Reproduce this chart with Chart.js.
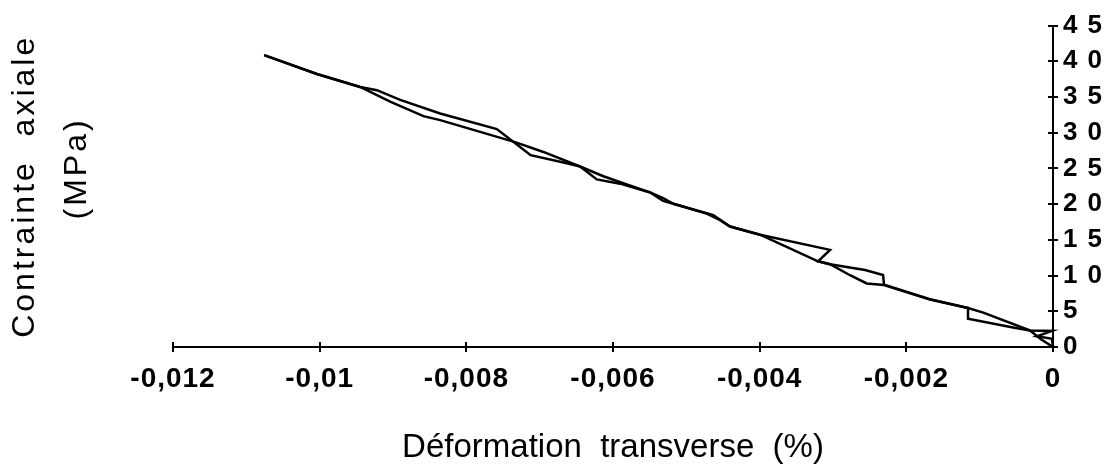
<!DOCTYPE html>
<html lang="fr">
<head>
  <meta charset="UTF-8">
  <title>Contrainte axiale vs déformation transverse</title>
  <style>
    html, body { margin: 0; padding: 0; background: #fff; }
    .chart-container { width: 1118px; height: 468px; }
  </style>
</head>
<body>
  <div class="chart-container">
    <canvas id="loopChart" width="1118" height="468"></canvas>
  </div>

  <script src="https://cdn.jsdelivr.net/npm/chart.js@4.4.0/dist/chart.umd.min.js"></script>
  <script>
    // Loading branch (with the creep steps), from origin to peak
    const loadStrain = [0, -0.000164, -0.000314, -0.000545, -0.001159, -0.001159, -0.001677, -0.002304,
      -0.002318, -0.002563, -0.003040, -0.003204, -0.003040, -0.003995, -0.004404, -0.004540, -0.004721,
      -0.005177, -0.005317, -0.005494, -0.005903, -0.006221, -0.006449, -0.006630, -0.007123, -0.007584,
      -0.008357, -0.008902, -0.009220, -0.009448, -0.010038, -0.010757];
    const loadStress = [0, 1.09, 2.32, 2.73, 3.95, 5.45, 6.68, 8.73,
      10.09, 10.77, 11.59, 12.00, 13.60, 15.72, 16.87, 17.77, 18.68,
      20.05, 20.46, 21.64, 22.87, 23.46, 25.27, 25.73, 26.86, 30.51,
      32.69, 34.60, 35.96, 36.41, 38.22, 40.87];

    // Unloading branch, from peak back to origin
    const unloadStrain = [-0.010757, -0.010038, -0.009448, -0.009039, -0.008585, -0.008357, -0.007335,
      -0.006949, -0.006449, -0.006131, -0.005812, -0.005494, -0.005317, -0.005177, -0.004631, -0.004404,
      -0.003995, -0.003204, -0.003040, -0.002768, -0.002540, -0.002304, -0.001677, -0.001159, -0.000950,
      -0.000314, -0.000014, -0.000218, -0.000014, 0];
    const unloadStress = [40.87, 38.22, 36.41, 34.37, 32.32, 31.77, 28.68,
      27.31, 25.27, 23.91, 22.77, 21.64, 20.86, 20.05, 18.45, 16.87,
      15.72, 12.00, 11.59, 10.05, 8.90, 8.69, 6.64, 5.45, 4.81,
      2.32, 2.25, 1.50, 1.16, 0];

    const xTickValues = [-0.012, -0.01, -0.008, -0.006, -0.004, -0.002, 0];
    const xTickLabels = ['-0,012', '-0,01', '-0,008', '-0,006', '-0,004', '-0,002', '0'];
    const yTickValues = [0, 5, 10, 15, 20, 25, 30, 35, 40, 45];
    const yTickLabels = ['0', '5', '10', '15', '20', '25', '30', '35', '40', '45'];

    const fontFamily = '"Liberation Sans", Arial, Helvetica, sans-serif';

    const toPoints = (xs, ys) => xs.map((x, i) => ({ x: x, y: ys[i] }));

    // wrap a scale draw method so its text gets some letter spacing
    function spaced(scale, method, sp) {
      const orig = scale[method];
      scale[method] = function (...args) {
        const c = this.ctx;
        c.save();
        c.letterSpacing = sp;
        orig.apply(this, args);
        c.restore();
      };
    }

    // small ticks that cross the axis line on both sides
    const axisMarks = {
      id: 'axisMarks',
      beforeDraw(chart) {
        if (chart._spacedDone) return;
        spaced(chart.scales.x, 'drawLabels', '1px');
        spaced(chart.scales.y, 'drawLabels', '10px');
        spaced(chart.scales.yTitle, 'drawTitle', '3px');
        chart._spacedDone = true;
      },
      afterDraw(chart) {
        const { ctx, scales: { x, y } } = chart;
        const len = 5;
        ctx.save();
        ctx.strokeStyle = '#000';
        ctx.lineWidth = 2;
        ctx.beginPath();
        x.ticks.forEach(t => {
          const px = Math.round(x.getPixelForValue(t.value));
          ctx.moveTo(px, y.bottom - len);
          ctx.lineTo(px, y.bottom + len);
        });
        y.ticks.forEach(t => {
          const py = Math.round(y.getPixelForValue(t.value));
          ctx.moveTo(y.left - len, py);
          ctx.lineTo(y.left + len, py);
        });
        ctx.stroke();
        ctx.restore();
      }
    };

    const ctx = document.getElementById('loopChart').getContext('2d');

    new Chart(ctx, {
      type: 'scatter',
      data: {
        datasets: [
          {
            label: 'Charge',
            data: toPoints(loadStrain, loadStress),
            showLine: true,
            borderColor: '#000',
            borderWidth: 2.5,
            pointRadius: 0,
            tension: 0,
            clip: false
          },
          {
            label: 'Décharge',
            data: toPoints(unloadStrain, unloadStress),
            showLine: true,
            borderColor: '#000',
            borderWidth: 2.5,
            pointRadius: 0,
            tension: 0,
            clip: false
          }
        ]
      },
      options: {
        responsive: false,
        animation: false,
        layout: { padding: { top: 17, left: 0, right: 0, bottom: 0 } },
        plugins: {
          legend: { display: false },
          tooltip: { enabled: false }
        },
        scales: {
          x: {
            type: 'linear',
            position: 'bottom',
            min: -0.012,
            max: 0,
            afterBuildTicks: (scale) => { scale.ticks = xTickValues.map(v => ({ value: v })); },
            afterFit: (scale) => { scale.height = 121; },
            grid: { display: false, drawTicks: false },
            border: { display: true, color: '#000', width: 2 },
            ticks: {
              color: '#000',
              padding: 15,
              maxRotation: 0,
              autoSkip: false,
              font: { family: fontFamily, size: 28, weight: 'bold' },
              callback: (value, index) => xTickLabels[index]
            },
            title: {
              display: true,
              text: 'Déformation  transverse  (%)',
              color: '#000',
              padding: { top: 0, bottom: 0 },
              font: { family: fontFamily, size: 33 }
            }
          },
          y: {
            type: 'linear',
            position: 'right',
            min: 0,
            max: 45,
            afterBuildTicks: (scale) => { scale.ticks = yTickValues.map(v => ({ value: v })); },
            afterFit: (scale) => { scale.width = 65; },
            grid: { display: false, drawTicks: false },
            border: { display: true, color: '#000', width: 2 },
            ticks: {
              color: '#000',
              padding: 10,
              autoSkip: false,
              font: { family: fontFamily, size: 26, weight: 'bold' },
              callback: (value, index) => yTickLabels[index]
            }
          },
          yTitle: {
            type: 'linear',
            position: 'left',
            min: 0,
            max: 45,
            afterFit: (scale) => { scale.width = 173; },
            grid: { display: false, drawTicks: false },
            border: { display: false },
            ticks: { display: false },
            title: {
              display: true,
              text: ['Contrainte  axiale', '   (MPa)'],
              color: '#000',
              padding: 0,
              font: { family: fontFamily, size: 32, lineHeight: 1.6 }
            }
          }
        }
      },
      plugins: [axisMarks]
    });
  </script>
</body>
</html>
